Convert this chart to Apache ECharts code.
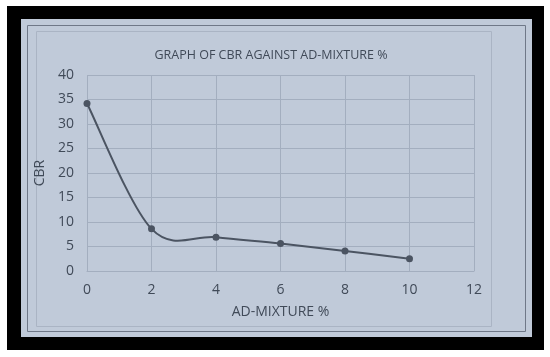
<!DOCTYPE html>
<html>
<head>
<meta charset="utf-8">
<script src="https://cdn.jsdelivr.net/npm/echarts@6/dist/echarts.min.js"></script>
<style>
  html, body { margin: 0; padding: 0; background: #fff; }
  #chart { width: 550px; height: 357px; }
</style>
</head>
<body>
<div id="chart"></div>
<script>
const admixture = [0, 2, 4, 6, 8, 10];
const cbr = [34.2, 8.6, 6.9, 5.6, 4.1, 2.5];

const textColor = '#404a58';
const gridColor = '#a3aebf';
const lineColor = '#4b5462';

const pontos = admixture.map((x, i) => [x, cbr[i]]);

// curva suavizada estilo Excel (Catmull-Rom -> Bezier), usando a escala do eixo
function desenharCurva(params, api) {
    if (params.dataIndex !== 0) return null;
    const p = pontos.map(pt => api.coord(pt));
    let path = `M${p[0][0]},${p[0][1]}`;
    for (let i = 0; i < p.length - 1; i++) {
        const p0 = p[i - 1] || p[i];
        const p1 = p[i];
        const p2 = p[i + 1];
        const p3 = p[i + 2] || p[i + 1];
        const c1 = [p1[0] + (p2[0] - p0[0]) / 6, p1[1] + (p2[1] - p0[1]) / 6];
        const c2 = [p2[0] - (p3[0] - p1[0]) / 6, p2[1] - (p3[1] - p1[1]) / 6];
        path += ` C${c1[0]},${c1[1]} ${c2[0]},${c2[1]} ${p2[0]},${p2[1]}`;
    }
    return {
        type: 'path',
        shape: { pathData: path },
        style: { fill: 'none', stroke: lineColor, lineWidth: 2 }
    };
}

const chart = echarts.init(document.getElementById('chart'));

chart.setOption({
    backgroundColor: '#ffffff',
    animation: false,
    graphic: [
        { type: 'rect', z: -10, shape: { x: 7, y: 6, width: 537, height: 344 }, style: { fill: '#000' } },
        { type: 'rect', z: -9, shape: { x: 21, y: 19, width: 511, height: 318 }, style: { fill: '#c0cad9' } },
        { type: 'rect', z: -8, shape: { x: 27.5, y: 25.5, width: 498, height: 306 }, style: { fill: 'none', stroke: '#6f7888', lineWidth: 1 } },
        { type: 'rect', z: -8, shape: { x: 36.5, y: 31.5, width: 455, height: 295 }, style: { fill: 'none', stroke: '#aab4c4', lineWidth: 1 } }
    ],
    title: {
        text: 'GRAPH OF CBR AGAINST AD-MIXTURE %',
        left: 266,
        top: 44,
        textAlign: 'center',
        textStyle: { color: textColor, fontSize: 12.5, fontWeight: 'normal', fontFamily: 'Open Sans' }
    },
    grid: { left: 87, right: 76, top: 75, bottom: 86 },
    xAxis: {
        type: 'value',
        min: 0,
        max: 12,
        interval: 2,
        name: 'AD-MIXTURE %',
        nameLocation: 'middle',
        nameGap: 34,
        nameTextStyle: { color: textColor, fontSize: 14, fontFamily: 'Open Sans' },
        axisLine: { show: true, lineStyle: { color: gridColor } },
        axisTick: { show: false },
        axisLabel: { color: textColor, fontSize: 14, margin: 12, fontFamily: 'Open Sans' },
        splitLine: { show: true, lineStyle: { color: gridColor } }
    },
    yAxis: {
        type: 'value',
        min: 0,
        max: 40,
        interval: 5,
        name: 'CBR',
        nameLocation: 'middle',
        nameGap: 40,
        nameTextStyle: { color: textColor, fontSize: 14, fontFamily: 'Open Sans' },
        axisLine: { show: false },
        axisTick: { show: false },
        axisLabel: { color: textColor, fontSize: 14, margin: 13, fontFamily: 'Open Sans' },
        splitLine: { show: true, lineStyle: { color: gridColor } }
    },
    series: [
        {
            type: 'custom',
            data: pontos,
            renderItem: desenharCurva,
            clip: false,
            z: 2
        },
        {
            type: 'scatter',
            data: pontos,
            symbol: 'circle',
            symbolSize: 7,
            itemStyle: { color: lineColor, opacity: 1 },
            z: 3
        }
    ]
});
</script>
</body>
</html>
